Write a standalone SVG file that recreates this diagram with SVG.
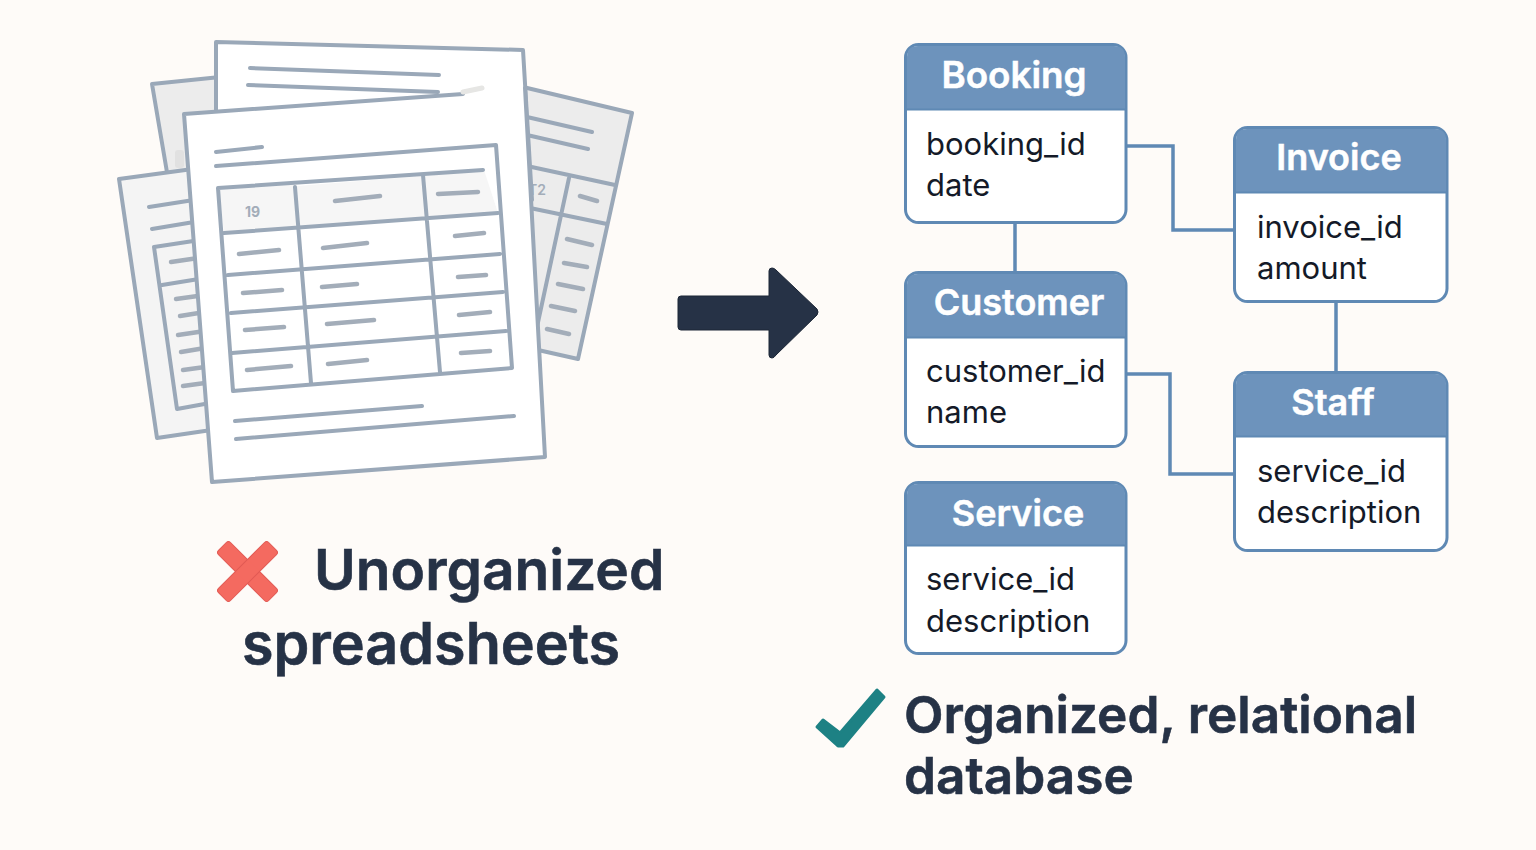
<svg xmlns="http://www.w3.org/2000/svg" width="1536" height="850" viewBox="0 0 1536 850">
<style>
text{font-family:Inter,"Noto Sans","Liberation Sans",sans-serif}
.pg{stroke:#9aa8b8;stroke-width:4;stroke-linejoin:round}
.ln{fill:none;stroke:#9aa8b8;stroke-width:4;stroke-linecap:round;stroke-linejoin:round}
.ds{fill:none;stroke:#a3adb9;stroke-width:4.500;stroke-linecap:round}
.box{fill:#fff;stroke:#5f89b4;stroke-width:3}
.hd{fill:#6d93bc}
.ttl{font-size:36px;font-weight:600;fill:#fff;text-anchor:middle;stroke:#fff;stroke-width:.5}
.fld{font-size:31px;fill:#141a28}
.big{font-weight:600;fill:#263246;stroke:#263246;stroke-width:.6}
.con{fill:none;stroke:#5f89b4;stroke-width:3.500}
</style>
<rect width="1536" height="850" fill="#fefbf8"/>
<g id="sheets">
<polygon class="pg" points="152,84 230,76 230,190 170,190" fill="#ececec"/>
<rect x="175" y="150" width="9" height="18" rx="3" fill="#e1e1e1"/>
<polygon class="pg" points="523,87 632,113 578,359 538,350" fill="#ececec"/>
<path class="ln" d="M527,117L592,132M527,135L588,149M527,166L615,185M530,208L607,224M569,178L537,327"/>
<path class="ds" d="M580,196L597,201M567,239L592,245M564,263L587,267M558,284L583,289M551,306L575,311M547,329L569,334"/>
<text x="528" y="195" font-size="14" font-weight="600" fill="#a3adb9">T2</text>
<polygon class="pg" points="119,179 200,168 225,428 157,438" fill="#f4f4f4"/>
<path class="ln" d="M149,207L200,199M152,229L200,221M154,247L200,240M154,247L177,409L210,403M162,285L205,278"/>
<path class="ds" d="M171,262L205,257M176,299L205,295M180,316L205,312M178,335L205,331M181,352L205,348M183,370L205,367M183,386L205,383"/>
<polygon class="pg" points="216,42 523,50 532,200 216,130" fill="#fff"/>
<path class="ln" d="M250,68L439,75M248,85L438,92"/>
<polygon points="184,114 463,94 525,88 545,457 212,482" fill="#fff"/>
<path class="ln" d="M463,94L184,114L212,482L545,457L525,88"/>
<path d="M463,92L482,88" stroke="#e6e6e4" stroke-width="5" stroke-linecap="round"/>
<polygon points="219,188 295,183 300,229 224,233" fill="#f6f6f6"/>
<polygon points="297,186 423,176 428,219 300,229" fill="#f6f6f6"/>
<polygon points="425,176 484,170 498,213 428,219" fill="#f6f6f6"/>
<path class="ln" d="M216,166L496,145L512,368L233,391L218,188L483,170M224,233L498,213M228,275L500,254M231,313L503,292M232,353L506,331M295,187L311,383M423,175L440,372"/>
<path class="ln" d="M216,152L262,147"/>
<path class="ds" d="M335,201L380,196M438,194L478,192M239,254L279,250M323,248L367,243M455,236L484,233M243,293L282,290M322,287L357,284M458,277L486,275M245,330L284,327M327,324L374,320M459,315L490,312M247,370L291,366M328,364L367,360M461,353L490,351"/>
<path class="ln" d="M235,421L422,406M236,439L514,416"/>
<text x="245" y="217" font-size="14" font-weight="700" fill="#a3adb9">19</text>
</g>
<path id="arrow" d="M681,296H769V271Q769,268 772,268Q774,268 776,270L817,309Q819,312 817,315L776,355Q774,358 772,358Q769,358 769,355V330H681Q678,330 678,327V299Q678,296 681,296Z" fill="#263246" stroke="#1c2636" stroke-width="1"/>
<g id="connectors">
<path class="con" d="M1015,223V272M1127,146H1173V230H1234M1336,302V372M1127,374H1170V474H1234"/>
</g>
<g id="booking">
<rect class="box" x="905.500" y="44.500" width="220.500" height="178" rx="13"/>
<path class="hd" d="M907,109V57Q907,46 918,46H1114Q1125,46 1125,57V109Z"/>
<path d="M906,109.500H1126" stroke="#5f89b4" stroke-width="2"/>
<text class="ttl" x="1014" y="88" style="font-size:36.800px">Booking</text>
<text class="fld" x="926" y="155">booking_id</text>
<text class="fld" x="926" y="196">date</text>
</g>
<g id="invoice">
<rect class="box" x="1234.500" y="127.500" width="212.500" height="174" rx="13"/>
<path class="hd" d="M1236,192V140Q1236,129 1247,129H1435Q1446,129 1446,140V192Z"/>
<path d="M1235,192.500H1447" stroke="#5f89b4" stroke-width="2"/>
<text class="ttl" x="1339" y="170">Invoice</text>
<text class="fld" x="1257" y="238">invoice_id</text>
<text class="fld" x="1257" y="279">amount</text>
</g>
<g id="customer">
<rect class="box" x="905.500" y="272.500" width="220.500" height="174" rx="13"/>
<path class="hd" d="M907,337V285Q907,274 918,274H1114Q1125,274 1125,285V337Z"/>
<path d="M906,337.500H1126" stroke="#5f89b4" stroke-width="2"/>
<text class="ttl" x="1019" y="315">Customer</text>
<text class="fld" x="926" y="382">customer_id</text>
<text class="fld" x="926" y="423">name</text>
</g>
<g id="staff">
<rect class="box" x="1234.500" y="372.500" width="212.500" height="178" rx="13"/>
<path class="hd" d="M1236,436V385Q1236,374 1247,374H1435Q1446,374 1446,385V436Z"/>
<path d="M1235,436.500H1447" stroke="#5f89b4" stroke-width="2"/>
<text class="ttl" x="1333" y="415">Staff</text>
<text class="fld" x="1257" y="482">service_id</text>
<text class="fld" x="1257" y="523">description</text>
</g>
<g id="service">
<rect class="box" x="905.500" y="482.500" width="220.500" height="171" rx="13"/>
<path class="hd" d="M907,545V495Q907,484 918,484H1114Q1125,484 1125,495V545Z"/>
<path d="M906,545.500H1126" stroke="#5f89b4" stroke-width="2"/>
<text class="ttl" x="1018" y="526">Service</text>
<text class="fld" x="926" y="590">service_id</text>
<text class="fld" x="926" y="632">description</text>
</g>
<g id="cross" transform="translate(247.500 571.500) rotate(45)" fill="#f46a60" stroke="#e15a54" stroke-width="1">
<rect x="-35.500" y="-8.500" width="71" height="17" rx="3"/>
<rect x="-8.500" y="-35.500" width="17" height="71" rx="3"/>
<rect x="-7.500" y="-9" width="15" height="18" stroke="none"/>
</g>
<text class="big" x="314" y="590" font-size="56.800">Unorganized</text>
<text class="big" x="242" y="664" font-size="57.400">spreadsheets</text>
<polygon id="check" points="817,727 823,720 840,733 877,690 884,697 843,746 838,746" fill="#1d8184" stroke="#1d8184" stroke-width="3" stroke-linejoin="round"/>
<text class="big" x="904" y="733" font-size="51.300">Organized, relational</text>
<text class="big" x="904" y="794" font-size="51.300">database</text>
</svg>
